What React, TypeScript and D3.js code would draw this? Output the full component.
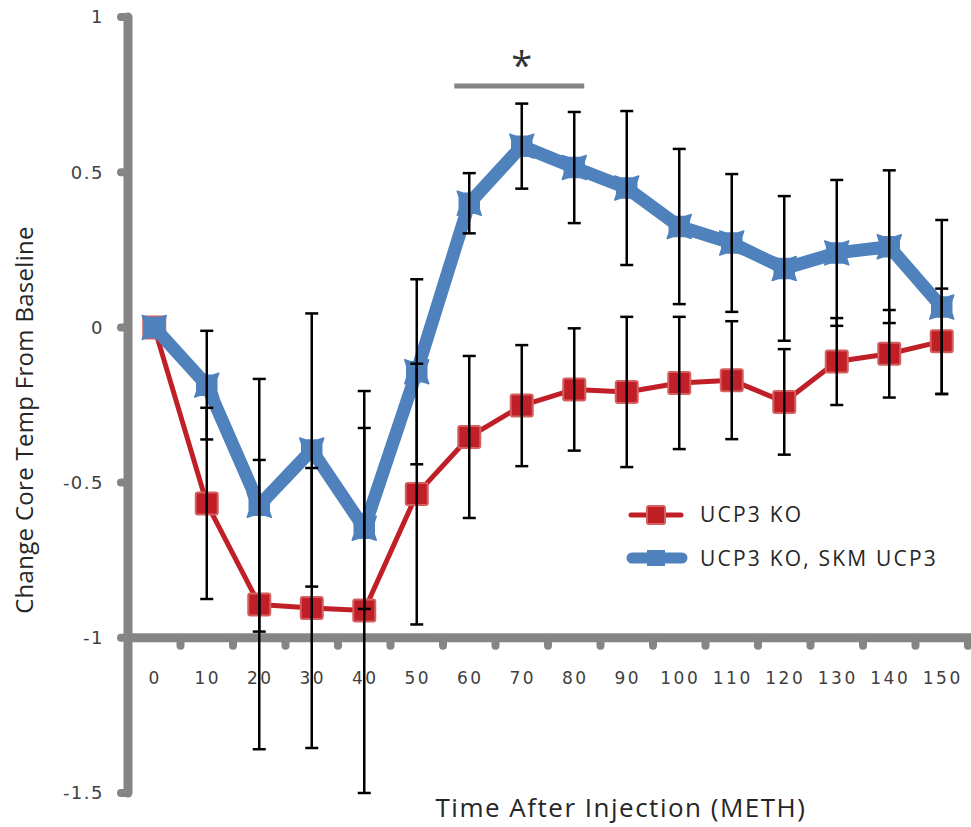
import { useEffect, useRef } from 'react';
import * as d3 from 'd3';

// minutes after injection
const times = [0, 10, 20, 30, 40, 50, 60, 70, 80, 90, 100, 110, 120, 130, 140, 150];
const yTicks = [-1.5, -1, -0.5, 0, 0.5, 1];

// UCP3 KO
const koMean = [0, -0.567, -0.893, -0.904, -0.912, -0.537, -0.353, -0.252, -0.2, -0.208, -0.179, -0.17, -0.24, -0.11, -0.085, -0.045];
const koErr = [0, 0.308, 0.466, 0.451, 0.588, 0.42, 0.261, 0.195, 0.197, 0.242, 0.213, 0.19, 0.17, 0.14, 0.141, 0.17];

// UCP3 KO, SKM UCP3
const skmMean = [0, -0.186, -0.573, -0.395, -0.647, -0.143, 0.4, 0.584, 0.515, 0.449, 0.325, 0.272, 0.19, 0.24, 0.26, 0.066];
const skmErrPlus = [0, 0.175, 0.407, 0.44, 0.442, 0.298, 0.097, 0.137, 0.179, 0.248, 0.25, 0.222, 0.233, 0.235, 0.246, 0.28];
const skmErrMinus = [0, 0.175, 0.407, 0.44, 0.26, 0.298, 0.097, 0.137, 0.179, 0.248, 0.25, 0.222, 0.233, 0.235, 0.246, 0.28];

const sigRange = [60, 80];

const RED = '#c11f27';
const BLUE = '#4f81bd';
const AXIS = '#858585';

function TempChart() {
  const ref = useRef<SVGSVGElement>(null);

  useEffect(() => {
    const svg = d3.select(ref.current);
    svg.selectAll('*').remove();

    const x = d3.scaleBand<number>().domain(times).range([128, 968]).padding(0);
    const y = d3.scaleLinear().domain([-1.5, 1]).range([793, 17]);
    const cx = (t: number) => (x(t) as number) + x.bandwidth() / 2;

    const ko = times.map((t, i) => ({ t, v: koMean[i], hi: koMean[i] + koErr[i], lo: koMean[i] - koErr[i] }));
    const skm = times.map((t, i) => ({ t, v: skmMean[i], hi: skmMean[i] + skmErrPlus[i], lo: skmMean[i] - skmErrMinus[i] }));

    // y axis with nub ticks
    const yAxis = svg.append('g');
    yAxis.append('line')
      .attr('x1', 128).attr('x2', 128)
      .attr('y1', y(1)).attr('y2', y(-1.5))
      .attr('stroke', AXIS).attr('stroke-width', 9).attr('stroke-linecap', 'round');
    yAxis.selectAll('.nub')
      .data(yTicks)
      .enter().append('line')
      .attr('x1', 124).attr('x2', 121)
      .attr('y1', d => y(d)).attr('y2', d => y(d))
      .attr('stroke', AXIS).attr('stroke-width', 8).attr('stroke-linecap', 'round');
    yAxis.selectAll('.lbl')
      .data(yTicks)
      .enter().append('text')
      .attr('x', 104)
      .attr('y', d => y(d))
      .attr('dy', '0.35em')
      .attr('text-anchor', 'end')
      .style('font-family', 'DejaVu Sans, sans-serif')
      .style('font-size', '18px')
      .style('letter-spacing', '1.5px')
      .style('fill', '#404040')
      .text(d => String(d));

    // x axis crossing at -1
    const x0 = y(-1);
    const xAxis = svg.append('g');
    xAxis.append('line')
      .attr('x1', 124).attr('x2', 975)
      .attr('y1', x0).attr('y2', x0)
      .attr('stroke', AXIS).attr('stroke-width', 9);
    xAxis.selectAll('.nub')
      .data(times)
      .enter().append('line')
      .attr('x1', d => (x(d) as number) + x.bandwidth())
      .attr('x2', d => (x(d) as number) + x.bandwidth())
      .attr('y1', x0 + 4).attr('y2', x0 + 8)
      .attr('stroke', AXIS).attr('stroke-width', 8).attr('stroke-linecap', 'round');
    xAxis.selectAll('.lbl')
      .data(times)
      .enter().append('text')
      .attr('x', d => cx(d) + 1)
      .attr('y', 678)
      .attr('dy', '0.35em')
      .attr('text-anchor', 'middle')
      .style('font-family', 'DejaVu Sans, sans-serif')
      .style('font-size', '17px')
      .style('letter-spacing', '2.5px')
      .style('fill', '#404040')
      .text(d => String(d));

    // axis titles
    svg.append('text')
      .attr('transform', 'translate(33,420) rotate(-90)')
      .attr('text-anchor', 'middle')
      .style('font-family', 'Open Sans, sans-serif')
      .style('font-size', '24px')
      .style('letter-spacing', '0.3px')
      .style('fill', '#262626')
      .text('Change Core Temp From Baseline');
    svg.append('text')
      .attr('x', 621).attr('y', 817)
      .attr('text-anchor', 'middle')
      .style('font-family', 'Open Sans, sans-serif')
      .style('font-size', '26px')
      .style('letter-spacing', '1.5px')
      .style('fill', '#262626')
      .text('Time After Injection (METH)');

    // significance bar
    svg.append('line')
      .attr('x1', cx(sigRange[0]) - 15).attr('x2', cx(sigRange[1]) + 10)
      .attr('y1', 86).attr('y2', 86)
      .attr('stroke', AXIS).attr('stroke-width', 5);
    svg.append('text')
      .attr('x', (cx(sigRange[0]) + cx(sigRange[1])) / 2)
      .attr('y', 79)
      .attr('text-anchor', 'middle')
      .style('font-family', 'Open Sans, sans-serif')
      .style('font-size', '38px')
      .style('fill', '#333')
      .text('*');

    const line = d3.line<{ t: number; v: number }>().x(d => cx(d.t)).y(d => y(d.v));

    // red series
    svg.append('path')
      .datum(ko)
      .attr('d', line)
      .attr('fill', 'none')
      .attr('stroke', RED)
      .attr('stroke-width', 5)
      .attr('stroke-linejoin', 'round');
    svg.selectAll('.koMark')
      .data(ko)
      .enter().append('rect')
      .attr('x', d => cx(d.t) - 11)
      .attr('y', d => y(d.v) - 11)
      .attr('width', 22).attr('height', 22)
      .attr('rx', 2)
      .attr('fill', RED)
      .attr('stroke', '#d4605f')
      .attr('stroke-width', 2);

    // blue series
    const starPath = 'M-12,-12 L-6,-10 L6,-10 L12,-12 L10,-6 L10,6 L12,12 L6,10 L-6,10 L-12,12 L-10,6 L-10,-6 Z';
    svg.append('path')
      .datum(skm)
      .attr('d', line)
      .attr('fill', 'none')
      .attr('stroke', BLUE)
      .attr('stroke-width', 13)
      .attr('stroke-linejoin', 'round');
    svg.selectAll('.skmMark')
      .data(skm)
      .enter().append('path')
      .attr('transform', d => `translate(${cx(d.t)},${y(d.v)})`)
      .attr('d', starPath)
      .attr('fill', BLUE)
      .attr('stroke', BLUE)
      .attr('stroke-width', 1.5)
      .attr('stroke-linejoin', 'round');

    // error bars on top
    const bars = [...ko, ...skm].filter(d => d.hi !== d.lo);
    const eb = svg.append('g').attr('stroke', '#000').attr('stroke-width', 2.5);
    eb.selectAll('.v')
      .data(bars)
      .enter().append('line')
      .attr('x1', d => cx(d.t)).attr('x2', d => cx(d.t))
      .attr('y1', d => y(d.hi)).attr('y2', d => y(d.lo));
    eb.selectAll('.capHi')
      .data(bars)
      .enter().append('line')
      .attr('x1', d => cx(d.t) - 6.5).attr('x2', d => cx(d.t) + 6.5)
      .attr('y1', d => y(d.hi)).attr('y2', d => y(d.hi));
    eb.selectAll('.capLo')
      .data(bars)
      .enter().append('line')
      .attr('x1', d => cx(d.t) - 6.5).attr('x2', d => cx(d.t) + 6.5)
      .attr('y1', d => y(d.lo)).attr('y2', d => y(d.lo));

    // legend
    const legend = svg.append('g');
    legend.append('line')
      .attr('x1', 631).attr('x2', 681).attr('y1', 515).attr('y2', 515)
      .attr('stroke', RED).attr('stroke-width', 5).attr('stroke-linecap', 'round');
    legend.append('rect')
      .attr('x', 647).attr('y', 506).attr('width', 18).attr('height', 18).attr('rx', 2)
      .attr('fill', RED).attr('stroke', '#d4605f').attr('stroke-width', 2);
    legend.append('line')
      .attr('x1', 632).attr('x2', 682).attr('y1', 558).attr('y2', 558)
      .attr('stroke', BLUE).attr('stroke-width', 11).attr('stroke-linecap', 'round');
    legend.append('rect')
      .attr('x', 647).attr('y', 550).attr('width', 18).attr('height', 16)
      .attr('fill', BLUE);
    legend.selectAll('.lt')
      .data([{ label: 'UCP3 KO', yy: 515 }, { label: 'UCP3 KO, SKM UCP3', yy: 559 }])
      .enter().append('text')
      .attr('x', 700)
      .attr('y', d => d.yy)
      .attr('dy', '0.35em')
      .style('font-family', 'Open Sans, sans-serif')
      .style('font-size', '21px')
      .style('letter-spacing', '2.2px')
      .style('fill', '#262626')
      .text(d => d.label);
  }, []);

  return <svg ref={ref} width={971} height={827} style={{ position: 'absolute', left: 0, top: 0, background: '#fff' }} />;
}

export default function App() {
  return <TempChart />;
}
